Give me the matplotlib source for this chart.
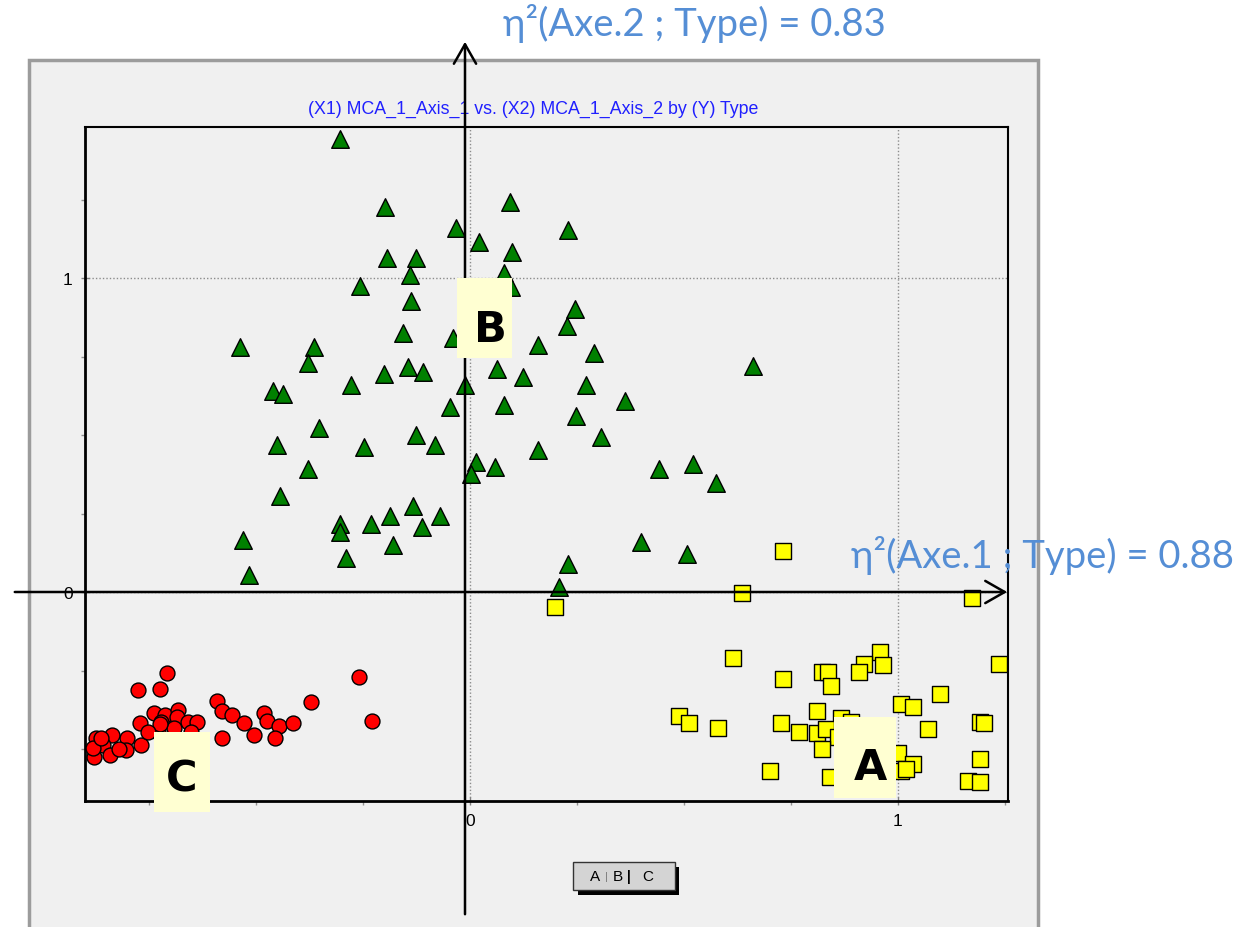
import numpy as np
import matplotlib.pyplot as plt
from matplotlib.patches import Rectangle, FancyArrowPatch
from matplotlib.ticker import MultipleLocator

W, H = 1251, 928

# Type A (yellow squares)
a_x = [0.731, 0.199, 0.636, 1.173, 0.614, 0.958, 0.921, 0.965, 0.909, 0.822,
       0.836, 1.238, 0.731, 0.843, 1.098, 1.007, 1.037, 0.811, 0.488, 0.512,
       0.579, 0.727, 0.867, 0.890, 1.192, 1.203, 0.769, 0.811, 0.832, 1.070,
       0.860, 0.822, 1.000, 1.192, 1.037, 1.007, 1.019, 0.701, 0.841, 1.164,
       1.192, 0.914, 0.879]
a_y = [0.131, -0.045, -0.003, -0.019, -0.210, -0.188, -0.229, -0.232, -0.252, -0.252,
       -0.252, -0.229, -0.277, -0.299, -0.322, -0.354, -0.366, -0.376, -0.392, -0.417,
       -0.433, -0.417, -0.401, -0.414, -0.411, -0.417, -0.443, -0.446, -0.436, -0.436,
       -0.459, -0.497, -0.510, -0.529, -0.545, -0.570, -0.561, -0.570, -0.586, -0.599,
       -0.602, -0.564, -0.500]

# Type B (green triangles)
b_x = [-0.304, -0.199, -0.033, 0.021, -0.194, -0.126, -0.140, -0.257, -0.138, -0.157,
       -0.040, -0.537, -0.364, -0.379, -0.201, -0.145, -0.110, -0.278, -0.012, -0.460,
       -0.437, -0.047, -0.353, -0.126, -0.082, -0.451, -0.248, -0.379, 0.014, 0.002,
       0.058, -0.444, -0.133, -0.070, -0.187, -0.231, -0.304, -0.304, -0.112, -0.530,
       -0.180, -0.290, -0.516,
       0.093, 0.229, 0.098, 0.079, 0.096, 0.245, 0.227, 0.159, 0.290, 0.661,
       0.063, 0.124, 0.271, 0.079, 0.362, 0.248, 0.306, 0.159, 0.442, 0.521,
       0.575, 0.400, 0.507, 0.229, 0.208]
b_y = [1.443, 1.226, 1.162, 1.115, 1.064, 1.064, 1.010, 0.975, 0.927, 0.825,
       0.809, 0.780, 0.780, 0.732, 0.697, 0.717, 0.701, 0.659, 0.659, 0.640,
       0.631, 0.589, 0.525, 0.500, 0.468, 0.468, 0.462, 0.392, 0.414, 0.376,
       0.398, 0.306, 0.274, 0.242, 0.242, 0.217, 0.217, 0.191, 0.207, 0.166,
       0.150, 0.111, 0.057,
       1.242, 1.153, 1.083, 1.016, 0.971, 0.901, 0.847, 0.787, 0.764, 0.720,
       0.713, 0.685, 0.659, 0.596, 0.611, 0.561, 0.494, 0.452, 0.392, 0.408,
       0.347, 0.162, 0.124, 0.092, 0.016]

# Type C (red circles)
c_x = [-0.708, -0.776, -0.724, -0.259, -0.229, -0.591, -0.371, -0.579, -0.556, -0.481,
       -0.528, -0.474, -0.446, -0.414, -0.505, -0.456, -0.579, -0.738, -0.713, -0.682,
       -0.685, -0.659, -0.638, -0.722, -0.771, -0.692, -0.729, -0.801, -0.769, -0.804,
       -0.836, -0.874, -0.857, -0.841, -0.879, -0.881, -0.724, -0.652, -0.862, -0.820,
       -0.752]
c_y = [-0.258, -0.312, -0.306, -0.268, -0.408, -0.347, -0.350, -0.379, -0.389, -0.385,
       -0.417, -0.408, -0.424, -0.417, -0.455, -0.465, -0.465, -0.385, -0.389, -0.373,
       -0.395, -0.411, -0.411, -0.414, -0.417, -0.430, -0.443, -0.465, -0.487, -0.503,
       -0.455, -0.465, -0.487, -0.519, -0.525, -0.494, -0.420, -0.443, -0.462, -0.500,
       -0.443]

title = "(X1) MCA_1_Axis_1 vs. (X2) MCA_1_Axis_2 by (Y) Type"
eta1 = "η²(Axe.1 ; Type) = 0.88"
eta2 = "η²(Axe.2 ; Type) = 0.83"


def fx(x):
    return x / W


def fy(y):
    return 1 - y / H


fig = plt.figure(figsize=(W / 100, H / 100), dpi=100)

# grey panel behind the chart
fig.add_artist(Rectangle((fx(29), fy(945)), fx(1038) - fx(29), fy(61) - fy(945),
                         transform=fig.transFigure, facecolor='#f0f0f0',
                         edgecolor='#9c9c9c', lw=2.5, zorder=-1))

ax = fig.add_axes([fx(85), fy(802), (1008 - 85) / W, (802 - 128) / H])
ax.set_facecolor('#f0f0f0')
ax.set_xlim(-0.900, 1.258)
ax.set_ylim(-0.664, 1.482)

for v in [0, 1]:
    ax.axvline(v, color='#8c8c8c', lw=1, ls=(0, (1, 1.5)), zorder=1)
    ax.axhline(v, color='#8c8c8c', lw=1, ls=(0, (1, 1.5)), zorder=1)

ax.scatter(b_x, b_y, marker='^', s=160, c='#008000', edgecolors='black', linewidths=1, zorder=3)
ax.scatter(a_x, a_y, marker='s', s=135, c='#ffff00', edgecolors='black', linewidths=1, zorder=3)
ax.scatter(c_x, c_y, marker='o', s=115, c='#ff0000', edgecolors='black', linewidths=1, zorder=3)

for sp in ax.spines.values():
    sp.set_linewidth(2)
    sp.set_color('black')
ax.spines['top'].set_linewidth(1.5)
ax.spines['right'].set_linewidth(1.5)

ax.set_xticks([0, 1])
ax.set_yticks([0, 1])
ax.set_xticklabels(['0', '1'])
ax.set_yticklabels(['0', '1'])
ax.xaxis.set_minor_locator(MultipleLocator(0.25))
ax.yaxis.set_minor_locator(MultipleLocator(0.25))
ax.tick_params(which='major', direction='inout', length=6, width=1, color='#808080',
               labelsize=12.5, pad=6)
ax.tick_params(which='minor', direction='out', length=3, width=1, color='#909090')
for lab in ax.get_xticklabels() + ax.get_yticklabels():
    lab.set_fontfamily('Liberation Sans')

fig.text(fx(533), fy(109), title, color='#2020ff', fontsize=12.8,
         family='Liberation Sans', ha='center', va='center')

# axis arrows
arrow_kw = dict(arrowstyle='->,head_length=1.4,head_width=0.8', mutation_scale=10,
                lw=1.8, color='black', transform=fig.transFigure, zorder=4)
fig.add_artist(FancyArrowPatch((fx(12), fy(593)), (fx(1010), fy(593)), **arrow_kw))
fig.add_artist(FancyArrowPatch((fx(465), fy(918)), (fx(465), fy(40)), **arrow_kw))

# group labels in pale yellow boxes
boxes = [('B', 457, 279, 512, 359, 490, 330),
         ('A', 834, 718, 896, 799, 870, 768),
         ('C', 154, 733, 210, 813, 182, 780)]
for lab, x0, y0, x1, y1, tx, ty in boxes:
    fig.add_artist(Rectangle((fx(x0), fy(y1)), fx(x1) - fx(x0), fy(y0) - fy(y1),
                             transform=fig.transFigure, facecolor='#ffffd2',
                             edgecolor='none', zorder=5))
    fig.text(fx(tx), fy(ty), lab, fontsize=31, fontweight='heavy', color='black',
             family='DejaVu Sans', ha='center', va='center', zorder=6)

# eta squared annotations
fig.text(fx(503), fy(36), eta2, fontsize=27.5, color='#558ed5',
         family=['Lato', 'DejaVu Sans'], ha='left', va='baseline', zorder=7)
fig.text(fx(851), fy(568), eta1, fontsize=27.5, color='#558ed5',
         family=['Lato', 'DejaVu Sans'], ha='left', va='baseline', zorder=7)

# legend box
fig.add_artist(Rectangle((fx(578), fy(896)), fx(679) - fx(578), fy(868) - fy(896),
                         transform=fig.transFigure, facecolor='black',
                         edgecolor='none', zorder=5))
fig.add_artist(Rectangle((fx(573), fy(891)), fx(675) - fx(573), fy(863) - fy(891),
                         transform=fig.transFigure, facecolor='#d4d4d4',
                         edgecolor='#333333', lw=1, zorder=6))
for s, x, col, fs in [('A', 595, 'black', 11), ('|', 606, '#777777', 8),
                      ('B', 618, 'black', 11), ('|', 629, 'black', 10),
                      ('C', 648, 'black', 11)]:
    fig.text(fx(x), fy(877), s, fontsize=fs, color=col, family='Liberation Sans',
             ha='center', va='center', zorder=7,
             fontweight='bold' if (s == '|' and col == 'black') else 'normal')

fig.savefig('out.png', dpi=100)
